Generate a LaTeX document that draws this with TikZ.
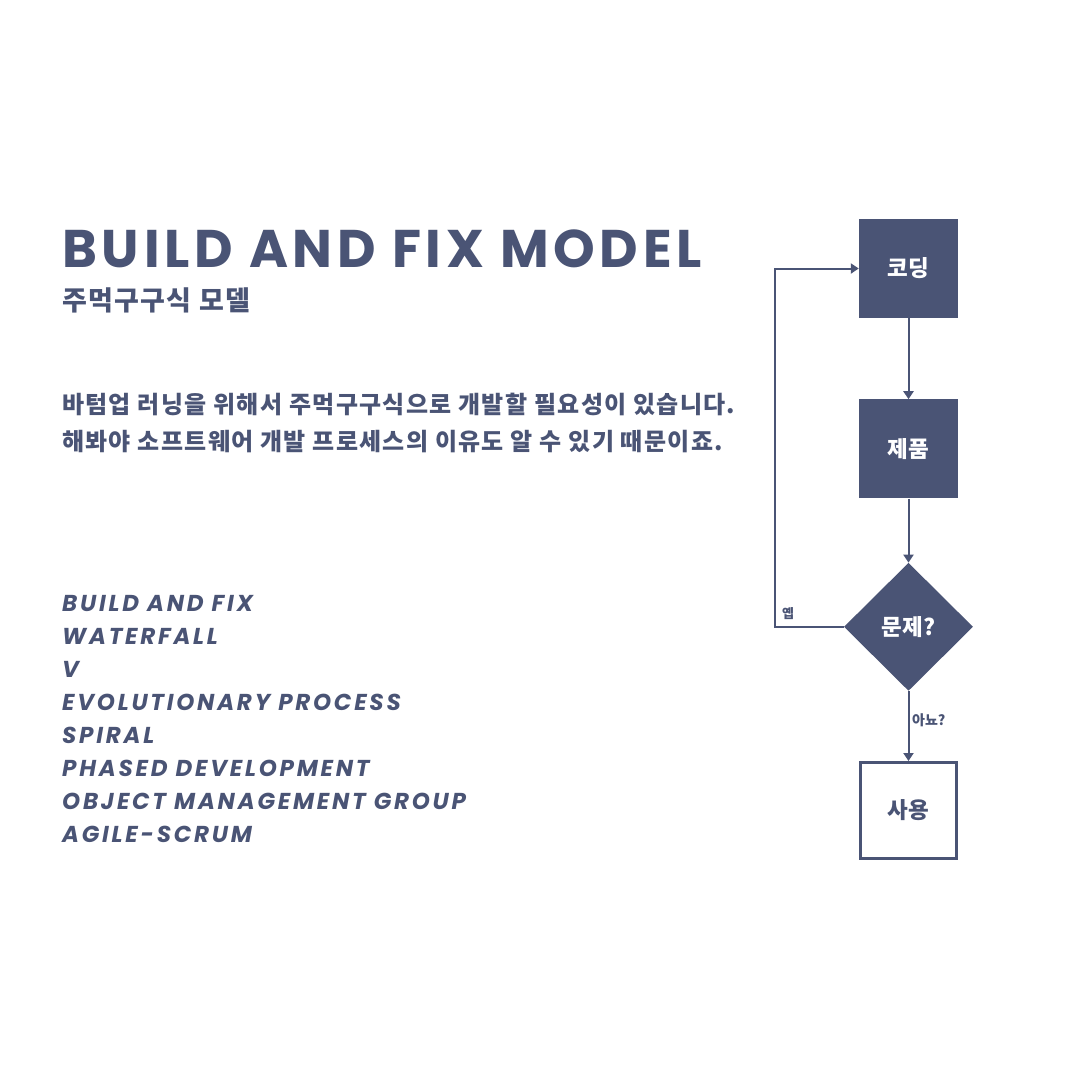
\documentclass[tikz,border=0pt]{standalone}
\usepackage{fontspec}
\usetikzlibrary{shapes.geometric,positioning,arrows.meta}
\setmainfont{Noto Sans CJK KR}
\newfontfamily\krfont{Noto Sans CJK KR}
\newfontfamily\parafont{Noto Sans CJK KR}[LetterSpace=5.5]
\newfontfamily\subfont{Noto Sans CJK KR}[LetterSpace=5]
\newfontfamily\titlefont{Poppins}[LetterSpace=9]
\newfontfamily\listfont{Poppins}[LetterSpace=12]
\definecolor{slate}{HTML}{4A5475}

\begin{document}
\begin{tikzpicture}[x=1pt,y=-1pt]
	\tikzset{
	box/.style={rectangle, fill=slate, minimum size=99pt, inner sep=0pt, text=white, font=\krfont\bfseries\fontsize{22.5}{26}\selectfont},
	check/.style={diamond, fill=slate, minimum width=129pt, minimum height=128pt, inner sep=0pt, text=white, font=\krfont\bfseries\fontsize{22.5}{26}\selectfont},
	endbox/.style={rectangle, draw=slate, line width=3pt, fill=white, minimum size=96pt, inner sep=0pt, text=slate, font=\krfont\bfseries\fontsize{22.5}{26}\selectfont},
	flow/.style={-{Triangle[width=10pt,length=8pt]}, line width=2pt, draw=slate},
	tag/.style={text=slate, inner sep=0pt, font=\krfont\bfseries\fontsize{13}{15}\selectfont},
	item/.style={anchor=base west, inner sep=0pt, text=slate, font=\listfont\bfseries\itshape\fontsize{23}{27}\selectfont}}

	\def\lx{62}

	\fill[white] (0,0) rectangle (1080,1080);
	\useasboundingbox (0,0) rectangle (1080,1080);

	%heading
	\node[anchor=base west, inner sep=0pt, text=slate, font=\titlefont\bfseries\fontsize{53}{60}\selectfont] (title) at (\lx,267) {BUILD AND FIX MODEL};
	\node[anchor=base west, inner sep=0pt, text=slate, font=\subfont\bfseries\fontsize{27}{30}\selectfont] (subtitle) at (\lx,310) {주먹구구식 모델};

	\node[anchor=west, inner sep=0pt, text=slate, font=\parafont\bfseries\fontsize{24}{28}\selectfont] (line1) at (\lx,404) {바텀업 러닝을 위해서 주먹구구식으로 개발할 필요성이 있습니다.};
	\node[anchor=west, inner sep=0pt, text=slate, font=\parafont\bfseries\fontsize{24}{28}\selectfont] (line2) at (\lx,442) {해봐야 소프트웨어 개발 프로세스의 이유도 알 수 있기 때문이죠.};

	%models
	\foreach \name [count=\i from 0] in {BUILD AND FIX, WATERFALL, V, EVOLUTIONARY PROCESS, SPIRAL, PHASED DEVELOPMENT, OBJECT MANAGEMENT GROUP, AGILE-SCRUM}
		\node[item] (model\i) at (\lx,611+33*\i) {\name};

	%flowchart
	\node[box] (coding) at (908.5,268.5) {코딩};
	\node[box, below=81pt of coding] (product) {제품};
	\node[check, below=64pt of product] (problem) {문제?};
	\node[endbox, below=70pt of problem] (use) {사용};

	\coordinate (loop) at (775,0);

	\draw[flow] (coding) -- (product);
	\draw[flow] (product) -- (problem);
	\draw[flow] (problem) -- (use);
	\draw[flow] (problem.west) -- (problem.west -| loop) |- (coding.west);

	\node[tag] (yes) at (788,614) {옙};
	\node[tag, anchor=west, font=\krfont\bfseries\fontsize{14}{16}\selectfont] (no) at (912,720) {아뇨?};

\end{tikzpicture}
\end{document}
